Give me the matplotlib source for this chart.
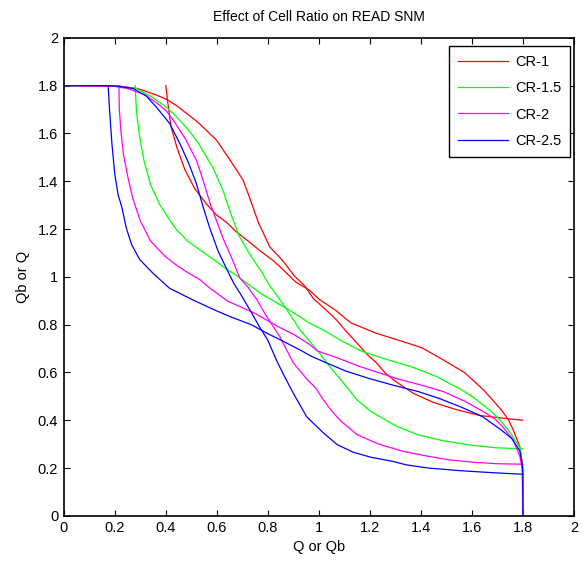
import matplotlib
matplotlib.use("Agg")
import matplotlib.pyplot as plt

plt.rcParams['font.family'] = ['Liberation Sans', 'DejaVu Sans']

# Transfer curve Qb = f(Q) for each cell ratio;
# the butterfly's second branch is the same data with axes swapped.
cr1_x = [0, 0.2, 0.29, 0.36, 0.403, 0.444, 0.468, 0.527, 0.599, 0.653, 0.703, 0.729,
         0.764, 0.808, 0.86, 0.904, 0.945, 0.978, 1.035, 1.069, 1.109, 1.148, 1.19,
         1.226, 1.26, 1.304, 1.37, 1.448, 1.54, 1.631, 1.736, 1.8]
cr1_y = [1.8, 1.8, 1.788, 1.762, 1.743, 1.715, 1.695, 1.646, 1.572, 1.487, 1.405, 1.33,
         1.225, 1.125, 1.066, 1.004, 0.962, 0.91, 0.855, 0.82, 0.77, 0.725, 0.675,
         0.64, 0.598, 0.56, 0.513, 0.475, 0.444, 0.42, 0.407, 0.40]

cr15_x = [0, 0.2, 0.285, 0.346, 0.402, 0.442, 0.494, 0.527, 0.583, 0.625, 0.653, 0.688,
          0.729, 0.778, 0.808, 0.834, 0.87, 0.925, 0.975, 1.004, 1.031, 1.082, 1.15,
          1.2, 1.239, 1.303, 1.386, 1.484, 1.595, 1.693, 1.8]
cr15_y = [1.8, 1.799, 1.788, 1.752, 1.71, 1.67, 1.608, 1.56, 1.461, 1.36, 1.27, 1.17,
          1.095, 1.017, 0.961, 0.925, 0.87, 0.78, 0.716, 0.68, 0.64, 0.575, 0.485,
          0.44, 0.415, 0.376, 0.34, 0.315, 0.296, 0.285, 0.28]

cr2_x = [0, 0.2, 0.25, 0.318, 0.374, 0.403, 0.43, 0.478, 0.52, 0.546, 0.573, 0.599,
         0.625, 0.66, 0.69, 0.72, 0.757, 0.792, 0.847, 0.899, 0.955, 0.989, 1.017,
         1.05, 1.085, 1.15, 1.235, 1.33, 1.414, 1.512, 1.61, 1.7, 1.8]
cr2_y = [1.8, 1.797, 1.788, 1.762, 1.72, 1.693, 1.655, 1.575, 1.488, 1.405, 1.31, 1.235,
         1.16, 1.075, 0.995, 0.96, 0.905, 0.84, 0.75, 0.642, 0.57, 0.533, 0.487,
         0.44, 0.398, 0.34, 0.3, 0.27, 0.252, 0.234, 0.224, 0.218, 0.216]

cr25_x = [0, 0.17, 0.22, 0.272, 0.324, 0.36, 0.415, 0.455, 0.49, 0.52, 0.547, 0.575,
          0.605, 0.64, 0.668, 0.695, 0.736, 0.765, 0.8, 0.834, 0.862, 0.9, 0.952,
          1.017, 1.072, 1.135, 1.205, 1.29, 1.344, 1.43, 1.554, 1.69, 1.8]
cr25_y = [1.8, 1.8, 1.797, 1.788, 1.756, 1.714, 1.642, 1.558, 1.475, 1.39, 1.29, 1.196,
          1.108, 1.03, 0.97, 0.925, 0.85, 0.795, 0.735, 0.651, 0.59, 0.513, 0.415,
          0.348, 0.298, 0.266, 0.245, 0.228, 0.213, 0.2, 0.189, 0.18, 0.174]

labels = ['CR-1', 'CR-1.5', 'CR-2', 'CR-2.5']
colors = ['#ff0000', '#00ff00', '#ff00ff', '#0000ff']
series = [(cr1_x, cr1_y), (cr15_x, cr15_y), (cr2_x, cr2_y), (cr25_x, cr25_y)]

ticks = [0, 0.2, 0.4, 0.6, 0.8, 1, 1.2, 1.4, 1.6, 1.8, 2]
tick_labels = ['0', '0.2', '0.4', '0.6', '0.8', '1', '1.2', '1.4', '1.6', '1.8', '2']

fig = plt.figure(figsize=(5.85, 5.65), dpi=100)
ax = fig.add_axes([0.109, 0.087, 0.872, 0.846])

for (xs, ys), c, lab in zip(series, colors, labels):
    ax.plot(xs, ys, color=c, lw=0.9, label=lab)
    ax.plot(ys, xs, color=c, lw=0.9)

ax.set_xlim(0, 2)
ax.set_ylim(0, 2)
ax.set_xticks(ticks)
ax.set_xticklabels(tick_labels)
ax.set_yticks(ticks)
ax.set_yticklabels(tick_labels)
ax.tick_params(direction='in', top=True, right=True, length=4, width=0.8,
               labelsize=10.5, pad=4)
for s in ax.spines.values():
    s.set_linewidth(1.2)

ax.set_title('Effect of Cell Ratio on READ SNM', fontsize=10, pad=12)
ax.set_xlabel('Q or Qb', fontsize=10.5, labelpad=3)
ax.set_ylabel('Qb or Q', fontsize=10.5, labelpad=6)

leg = ax.legend(loc='upper right', bbox_to_anchor=(0.992, 0.983), borderaxespad=0,
                fontsize=10.5, fancybox=False, edgecolor='black',
                framealpha=1, handlelength=3.4,
                labelspacing=0.85, handletextpad=0.5, borderpad=0.6)
leg.get_frame().set_linewidth(1.0)

fig.savefig('out.png', dpi=100)
